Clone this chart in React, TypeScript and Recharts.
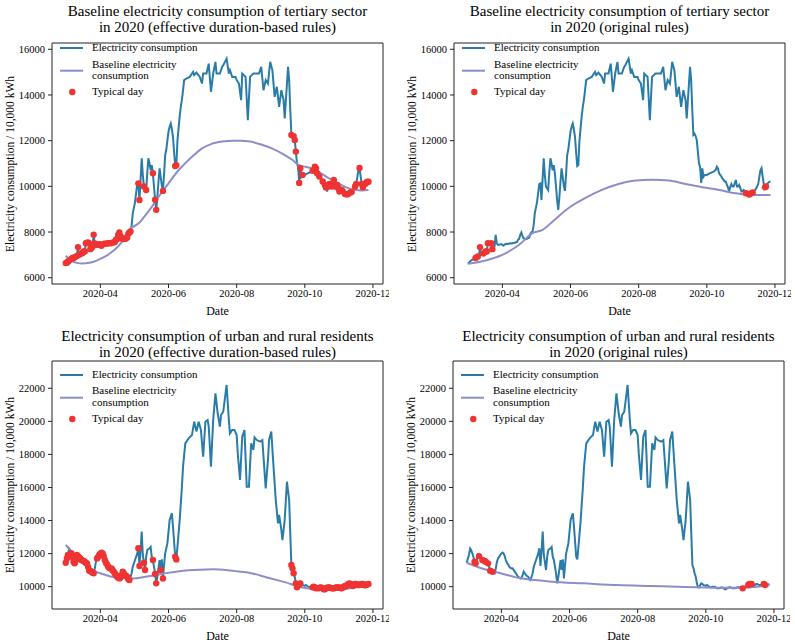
import React from 'react';
import { ComposedChart, Line, Scatter, XAxis, YAxis, ReferenceLine } from 'recharts';

// x values are days counted from 2020-03-01
const monthTicks = [31, 92, 153, 214, 275];
const monthLabels = ['2020-04', '2020-06', '2020-08', '2020-10', '2020-12'];
const X_DOMAIN: [number, number] = [-12.3, 284];

const tertiaryTicks = [6000, 8000, 10000, 12000, 14000, 16000];
const residentTicks = [10000, 12000, 14000, 16000, 18000, 20000, 22000];

type Pair = [number, number];

const tertiaryConsumption: Pair[] = [
  [0, 6640], [1, 6650], [2, 6710], [3, 6750], [4, 6790], [5, 6820], [6, 6860], [7, 6860], [8, 6900], [9, 6930],
  [10, 6950], [11, 7340], [12, 7000], [13, 7010], [14, 7060], [15, 7080], [16, 7150], [17, 7150], [18, 7510], [19, 7520],
  [20, 7540], [21, 7510], [22, 7250], [23, 7300], [24, 7370], [25, 7880], [26, 7500], [27, 7440], [28, 7440], [29, 7460],
  [30, 7470], [31, 7440], [32, 7400], [33, 7450], [34, 7480], [35, 7490], [36, 7480], [37, 7500], [38, 7510], [39, 7500],
  [40, 7510], [41, 7520], [42, 7530], [43, 7550], [44, 7560], [45, 7660], [46, 7700], [47, 7880], [48, 7980], [49, 7820],
  [50, 7730], [51, 7700], [52, 7690], [53, 7700], [54, 7730], [55, 7760], [56, 7920], [57, 7980], [58, 8020], [59, 8300],
  [60, 8820], [62, 9300], [63, 9700], [64, 10100], [65, 10130], [66, 9400], [67, 10300], [68, 11230], [69, 10500],
  [70, 9990], [71, 9920], [72, 9840], [73, 10600], [74, 11230], [75, 11000], [76, 10700], [77, 10930], [78, 10570],
  [79, 10000], [80, 9410], [81, 8970], [82, 9500], [83, 10200], [84, 10790], [85, 10400], [86, 10030], [87, 9800],
  [88, 10500], [89, 11370], [90, 11600], [91, 12000], [92, 12400], [93, 12610], [94, 12750], [95, 12500], [96, 12170],
  [97, 11500], [98, 10890], [99, 10930], [100, 12000], [101, 12540], [102, 13050], [103, 13480], [104, 13800],
  [105, 14200], [106, 14650], [108, 14720], [111, 14790], [114, 15010], [115, 14870], [117, 14980], [120, 14790],
  [122, 14500], [123, 14940], [126, 14940], [128, 15370], [130, 14140], [132, 14940], [134, 15450], [135, 14940],
  [138, 14940], [140, 15230], [141, 15300], [144, 15590], [146, 14940], [147, 15080], [149, 14790], [152, 14790],
  [153, 14650], [155, 14500], [157, 13770], [158, 14940], [161, 14790], [163, 12900], [165, 14790], [168, 14940],
  [171, 14940], [173, 14940], [175, 15230], [177, 14210], [179, 14650], [181, 14500], [183, 15450], [185, 15080],
  [187, 13920], [189, 14360], [191, 13480], [193, 14210], [195, 13770], [196, 12970], [199, 15230], [200, 14650],
  [201, 13340], [202, 12250], [203, 12300], [204, 12200], [205, 12030], [206, 11520], [207, 11000], [208, 10860],
  [209, 10150], [210, 10790], [211, 10420], [212, 10500], [214, 10500], [216, 10560], [218, 10600], [220, 10640],
  [221, 10680], [222, 10720], [223, 10860], [224, 10790], [225, 10570], [226, 10500], [227, 10430], [228, 10350],
  [229, 10280], [230, 10210], [231, 10210], [232, 10060], [233, 9950], [234, 9770], [235, 9990], [236, 10100],
  [237, 9990], [238, 9990], [239, 10130], [240, 10280], [241, 9990], [242, 9990], [243, 10060], [244, 9920],
  [245, 9770], [246, 9800], [247, 9840], [248, 9780], [249, 9700], [250, 9660], [251, 9620], [252, 9640],
  [253, 9680], [254, 9720], [255, 9730], [256, 9760], [257, 9820], [258, 9900], [259, 9990], [260, 10100],
  [261, 10400], [262, 10700], [263, 10800], [264, 10430], [265, 10100], [266, 9960], [267, 9990], [268, 10100],
  [269, 10160], [270, 10200], [271, 10200],
];

const tertiaryBaselineEffective: Pair[] = [
  [0, 6960], [5, 6750], [10, 6650], [15, 6620], [20, 6640], [25, 6700], [30, 6800], [35, 6920], [40, 7080],
  [45, 7280], [50, 7550], [55, 7900], [58, 8150], [62, 8280], [66, 8420], [70, 8650], [77, 9100], [84, 9600],
  [92, 10130], [100, 10650], [107, 11010], [115, 11380], [122, 11660], [130, 11850], [140, 11960], [150, 12000],
  [157, 12000], [165, 11960], [175, 11830], [185, 11650], [195, 11400], [203, 11150], [208, 10950], [215, 10850],
  [222, 10760], [230, 10520], [240, 10230], [250, 9980], [258, 9850], [265, 9820], [271, 9840],
];

const tertiaryBaselineOriginal: Pair[] = [
  [0, 6611], [16, 6757], [31, 7004], [46, 7441], [58, 7951], [67, 8096], [76, 8460], [90, 9042], [105, 9479],
  [120, 9843], [135, 10105], [150, 10251], [165, 10290], [180, 10251], [195, 10105], [210, 9959], [225, 9843],
  [240, 9697], [255, 9624], [271, 9624],
];

const residentConsumption: Pair[] = [
  [0, 11450], [1, 11710], [2, 11920], [3, 12300], [4, 12200], [5, 12020], [6, 11800], [7, 11510], [8, 11410],
  [9, 11600], [10, 11920], [11, 11850], [12, 11770], [13, 11700], [14, 11610], [15, 11580], [16, 11550],
  [17, 11510], [18, 11450], [19, 11410], [20, 11200], [21, 10970], [22, 10970], [23, 10900], [24, 10850],
  [25, 10810], [26, 11100], [27, 11500], [28, 11710], [29, 11800], [30, 11920], [31, 12000], [32, 12060],
  [33, 12010], [34, 11850], [35, 11610], [36, 11450], [37, 11350], [38, 11210], [39, 11150], [40, 11100],
  [41, 11110], [42, 11000], [43, 10910], [44, 10800], [45, 10710], [46, 10600], [47, 10550], [48, 10500],
  [49, 10550], [50, 10700], [51, 10910], [52, 10800], [53, 10710], [54, 10650], [55, 10600], [56, 10450],
  [57, 10400], [58, 10600], [59, 10810], [60, 11200], [62, 11610], [64, 12000], [65, 12320], [66, 11250],
  [67, 12200], [68, 13330], [69, 11920], [70, 11450], [71, 11010], [72, 11800], [73, 12220], [75, 12320],
  [76, 12400], [77, 11800], [78, 11610], [79, 11210], [80, 10770], [81, 10200], [82, 10600], [84, 11610],
  [85, 11010], [86, 11650], [87, 10500], [88, 11300], [89, 12020], [91, 12620], [93, 14030], [95, 14440],
  [96, 13630], [98, 11810], [99, 11650], [100, 12420], [102, 14030], [104, 16050], [105, 17260], [107, 18670],
  [110, 18970], [113, 19170], [115, 19980], [117, 19380], [119, 19980], [121, 19480], [123, 17860], [125, 19980],
  [127, 20080], [128, 19680], [130, 17260], [132, 20080], [134, 21690], [136, 20490], [138, 19680], [139, 20380],
  [141, 20580], [144, 22200], [146, 20080], [147, 19270], [149, 19480], [151, 19480], [153, 19170], [154, 18060],
  [156, 16450], [158, 19070], [160, 19480], [162, 16050], [164, 16050], [166, 18670], [168, 18270], [169, 19030],
  [171, 18870], [174, 18770], [176, 18870], [179, 15950], [181, 17660], [182, 18870], [184, 19380], [186, 17260],
  [188, 15240], [190, 13830], [191, 14340], [193, 13430], [194, 12820], [196, 14030], [198, 16350], [200, 15240],
  [201, 13220], [202, 11310], [203, 11110], [204, 10810], [205, 10600], [206, 10200], [207, 9960], [208, 9950],
  [209, 10100], [210, 10200], [211, 10160], [212, 10100], [213, 10080], [214, 10050], [215, 10100], [216, 10060],
  [217, 10000], [218, 9980], [219, 9960], [220, 10000], [221, 9960], [222, 10000], [223, 9950], [224, 9900],
  [225, 9900], [226, 9900], [227, 9920], [228, 9960], [229, 9940], [230, 9900], [231, 9840], [232, 9840],
  [233, 9900], [234, 9940], [235, 9960], [236, 9960], [237, 9930], [238, 9900], [239, 9900], [240, 9900],
  [241, 9920], [242, 9960], [243, 9960], [244, 9940], [245, 9960], [246, 9920], [247, 9900], [248, 9950],
  [249, 10000], [250, 10040], [251, 10040], [252, 10100], [253, 10160], [254, 10200], [255, 10160], [256, 10100],
  [257, 10040], [258, 10100], [259, 10160], [260, 10160], [261, 10120], [262, 10100], [263, 10100], [264, 10130],
  [265, 10160], [266, 10160], [267, 10100], [268, 10080], [269, 10100], [270, 10140], [271, 10160],
];

const residentBaselineEffective: Pair[] = [
  [0, 12520], [5, 12150], [10, 11800], [15, 11450], [20, 11150], [25, 10950], [31, 10810], [40, 10620],
  [50, 10520], [60, 10500], [70, 10580], [80, 10700], [90, 10820], [100, 10920], [110, 10990], [120, 11030],
  [132, 11050], [145, 11000], [155, 10920], [167, 10800], [180, 10560], [190, 10380], [197, 10260], [205, 10080],
  [212, 9950], [222, 9860], [232, 9820], [240, 9810], [250, 9860], [260, 9960], [271, 10100],
];

const residentBaselineOriginal: Pair[] = [
  [0, 11450], [16, 11050], [31, 10800], [46, 10540], [61, 10400], [76, 10300], [105, 10200], [135, 10100],
  [165, 10040], [195, 9980], [225, 9940], [240, 9930], [255, 9960], [271, 10080],
];

const tertiaryTypicalEffective = [
  0, 1, 2, 3, 5, 6, 7, 8, 10, 11, 12, 14, 15, 16, 17, 18, 19, 20, 21, 22, 23, 24, 25, 26, 27, 28, 30, 31, 32, 34, 35,
  37, 38, 40, 41, 43, 44, 45, 46, 47, 48, 49, 50, 51, 52, 53, 54, 55, 56, 57, 58, 65, 66, 70, 72, 78, 80, 81, 87, 98,
  99, 202, 204, 205, 206, 209, 210, 212, 221, 223, 224, 225, 227, 230, 232, 233, 235, 236, 238, 239, 240, 241, 243,
  244, 245, 247, 248, 250, 252, 253, 255, 256, 259, 260, 263, 265, 266, 268, 269, 270, 271,
];
const tertiaryTypicalOriginal = [7, 9, 11, 14, 16, 17, 18, 21, 22, 249, 252, 253, 255, 266, 267];

const residentTypicalEffective = [
  0, 1, 2, 5, 6, 7, 8, 9, 10, 11, 12, 13, 14, 15, 16, 17, 18, 19, 20, 21, 22, 23, 24, 25, 28, 29, 30, 31, 32, 33, 34,
  35, 36, 37, 38, 39, 40, 41, 42, 43, 44, 45, 46, 47, 48, 49, 50, 51, 52, 53, 54, 55, 56, 57, 65, 66, 70, 71, 78, 80,
  81, 85, 87, 98, 99, 202, 203, 204, 206, 207, 209, 210, 221, 222, 223, 224, 226, 227, 228, 229, 230, 231, 232, 233,
  234, 235, 236, 237, 238, 239, 240, 241, 242, 243, 244, 245, 246, 247, 248, 249, 250, 251, 252, 253, 254, 255, 256,
  257, 258, 259, 260, 261, 262, 263, 264, 265, 266, 267, 268, 269, 270, 271,
];
const residentTypicalOriginal = [7, 8, 11, 14, 16, 17, 19, 21, 23, 247, 252, 253, 255, 266, 267];

const BLUE = '#2a7ca8';
const PURPLE = '#8d8ec9';
const RED = '#ef3333';
const FONT = '"Liberation Serif", "Times New Roman", Times, serif';

type Pt = { day: number; value: number };
const toPts = (pairs: Pair[]): Pt[] => pairs.map(([day, value]) => ({ day, value }));
const pick = (pairs: Pair[], days: number[]): Pt[] => toPts(pairs.filter(([d]) => days.includes(d)));

interface Frame { x: number; y: number; w: number; h: number }

interface PanelProps {
  frame: Frame;
  title: string[];
  titleTop: number;
  legendTop: number;
  yDomain: [number, number];
  yTicks: number[];
  consumption: Pair[];
  baseline: Pair[];
  typical: number[];
}

const Dot = (props: any) => <circle cx={props.cx} cy={props.cy} r={3.2} fill={RED} />;

const Legend = ({ x, y }: { x: number; y: number }) => (
  <>
    <svg style={{ position: 'absolute', left: x + 8, top: y - 6, overflow: 'visible' }} width={24} height={50}>
      <line x1={0} x2={23} y1={6} y2={6} stroke={BLUE} strokeWidth={2} />
      <line x1={0} x2={23} y1={28.7} y2={28.7} stroke={PURPLE} strokeWidth={2} />
      <circle cx={12.3} cy={50} r={3.2} fill={RED} />
    </svg>
    <div style={{ position: 'absolute', left: x + 40, top: y - 6, fontSize: 11, lineHeight: '11.4px', whiteSpace: 'nowrap' }}>
      Electricity consumption
    </div>
    <div style={{ position: 'absolute', left: x + 40, top: y + 10.3, fontSize: 11, lineHeight: '11.4px', whiteSpace: 'nowrap' }}>
      Baseline electricity<br />consumption
    </div>
    <div style={{ position: 'absolute', left: x + 40, top: y + 38, fontSize: 11, lineHeight: '11.4px', whiteSpace: 'nowrap' }}>
      Typical day
    </div>
  </>
);

function Panel(p: PanelProps) {
  const { frame } = p;
  const consumption = toPts(p.consumption);
  const baseline = toPts(p.baseline);
  const typical = pick(p.consumption, p.typical);
  return (
    <>
      <div style={{ position: 'absolute', left: frame.x, width: frame.w, top: p.titleTop, textAlign: 'center', fontSize: 15, lineHeight: '16.5px' }}>
        {p.title[0]}<br />{p.title[1]}
      </div>
      <div
        style={{
          position: 'absolute', left: frame.x - 42, top: frame.y + frame.h / 2, fontSize: 11.5, whiteSpace: 'nowrap',
          transform: 'translate(-50%, -50%) rotate(-90deg)',
        }}
      >
        Electricity consumption / 10,000 kWh
      </div>
      <div style={{ position: 'absolute', left: frame.x, width: frame.w, top: frame.y + frame.h + 20, textAlign: 'center', fontSize: 12 }}>
        Date
      </div>
      <div style={{ position: 'absolute', left: frame.x - 50, top: frame.y - 10 }}>
        <ComposedChart width={frame.w + 56} height={frame.h + 46} margin={{ top: 10, right: 6, bottom: 0, left: 0 }}>
          <XAxis
            type="number"
            dataKey="day"
            domain={X_DOMAIN}
            allowDataOverflow
            ticks={monthTicks}
            interval={0}
            tickFormatter={(d: number) => monthLabels[monthTicks.indexOf(d)]}
            height={36}
            stroke="#222"
            tickSize={4}
            tickMargin={2}
            tick={{ fontSize: 10.5, fill: '#000' }}
          />
          <YAxis
            type="number"
            dataKey="value"
            domain={p.yDomain}
            allowDataOverflow
            ticks={p.yTicks}
            interval={0}
            width={50}
            stroke="#222"
            tickSize={4}
            tickMargin={3}
            tick={{ fontSize: 10.5, fill: '#000' }}
          />
          <ReferenceLine y={p.yDomain[1]} stroke="#222" />
          <ReferenceLine x={X_DOMAIN[1]} stroke="#222" />
          <Line data={consumption} dataKey="value" type="linear" stroke={BLUE} strokeWidth={2} dot={false} isAnimationActive={false} />
          <Line data={baseline} dataKey="value" type="monotone" stroke={PURPLE} strokeWidth={2} dot={false} isAnimationActive={false} />
          <Scatter data={typical} dataKey="value" shape={Dot} isAnimationActive={false} />
        </ComposedChart>
      </div>
      <Legend x={frame.x} y={p.legendTop} />
    </>
  );
}

export default function App() {
  return (
    <div style={{ position: 'absolute', left: 0, top: 0, width: 795, height: 642, background: '#fff', fontFamily: FONT, color: '#000' }}>
      <Panel
        frame={{ x: 52, y: 43, w: 331, h: 241 }}
        title={['Baseline electricity consumption of tertiary sector', 'in 2020 (effective duration-based rules)']}
        titleTop={2.5}
        legendTop={48.3}
        yDomain={[5725, 16275]}
        yTicks={tertiaryTicks}
        consumption={tertiaryConsumption}
        baseline={tertiaryBaselineEffective}
        typical={tertiaryTypicalEffective}
      />
      <Panel
        frame={{ x: 454, y: 43, w: 331, h: 241 }}
        title={['Baseline electricity consumption of tertiary sector', 'in 2020 (original rules)']}
        titleTop={2.5}
        legendTop={48.3}
        yDomain={[5725, 16275]}
        yTicks={tertiaryTicks}
        consumption={tertiaryConsumption}
        baseline={tertiaryBaselineOriginal}
        typical={tertiaryTypicalOriginal}
      />
      <Panel
        frame={{ x: 52, y: 361, w: 331, h: 248 }}
        title={['Electricity consumption of urban and rural residents', 'in 2020 (effective duration-based rules)']}
        titleTop={327.5}
        legendTop={375}
        yDomain={[8650, 23650]}
        yTicks={residentTicks}
        consumption={residentConsumption}
        baseline={residentBaselineEffective}
        typical={residentTypicalEffective}
      />
      <Panel
        frame={{ x: 453, y: 361, w: 331, h: 248 }}
        title={['Electricity consumption of urban and rural residents', 'in 2020 (original rules)']}
        titleTop={327.5}
        legendTop={375}
        yDomain={[8650, 23650]}
        yTicks={residentTicks}
        consumption={residentConsumption}
        baseline={residentBaselineOriginal}
        typical={residentTypicalOriginal}
      />
    </div>
  );
}
